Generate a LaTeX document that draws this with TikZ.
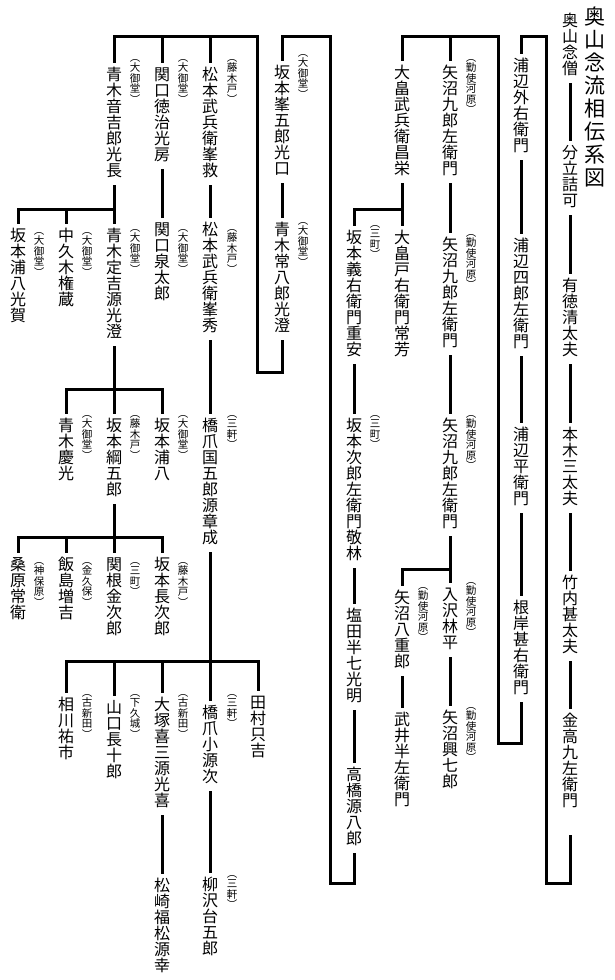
\documentclass[tikz,border=0pt]{standalone}
\usepackage{fontspec}
\setmainfont{Noto Sans CJK JP}
\newdimen\tatepitch
\def\tate#1{\vbox{\offinterlineskip\tateloop#1\relax}}
\def\tateloop#1{\ifx#1\relax\else\hbox to 1em{\hss\vrule height .84\tatepitch depth .16\tatepitch width 0pt\smash{#1}\hss}\expandafter\tateloop\fi}

\begin{document}
\begin{tikzpicture}[x=1pt,y=-1pt]
\tikzset{
  person/.style={anchor=north,inner sep=0pt,font={\fontsize{16}{16}\selectfont\tatepitch=16pt}},
  note/.style={anchor=north,inner sep=0pt,font={\fontsize{10.5}{10.5}\selectfont\tatepitch=10.5pt}},
  headline/.style={anchor=north,inner sep=0pt,font={\fontsize{21}{21}\selectfont\tatepitch=23pt}},
  kin/.style={draw=black,line width=3pt,shorten <=6pt,shorten >=4pt}
}
\useasboundingbox (0,0) rectangle (615,980);
\node[headline] (n_title) at (595,5) {\tate{奥山念流相伝系図}};
\node[person] (n_okuyama) at (570,13) {\tate{奥山念僧}};
\node[person] (n_bunryu) at (570,145) {\tate{分立詰可}};
\node[person] (n_arinori) at (570,278) {\tate{有徳清太夫}};
\node[person] (n_motoki) at (570,427) {\tate{本木三太夫}};
\node[person] (n_takeuchi) at (570,575) {\tate{竹内甚太夫}};
\node[person] (n_kanetaka) at (570,713) {\tate{金高九左衛門}};
\node[person] (n_urabe_a) at (521,58) {\tate{浦辺外右衛門}};
\node[person] (n_urabe_b) at (521,238) {\tate{浦辺四郎左衛門}};
\node[person] (n_urabe_c) at (521,427) {\tate{浦辺平衛門}};
\node[person] (n_negishi) at (521,600) {\tate{根岸甚右衛門}};
\node[person] (n_yanuma_a) at (450,65) {\tate{矢沼九郎左衛門}};
\node[person] (n_yanuma_b) at (450,237) {\tate{矢沼九郎左衛門}};
\node[person] (n_yanuma_c) at (450,418) {\tate{矢沼九郎左衛門}};
\node[person] (n_irisawa) at (450,587) {\tate{入沢林平}};
\node[person] (n_yanuma_d) at (450,710) {\tate{矢沼興七郎}};
\node[person] (n_ohata_a) at (402,65) {\tate{大畠武兵衛昌栄}};
\node[person] (n_ohata_b) at (402,230) {\tate{大畠戸右衛門常芳}};
\node[person] (n_yanuma_e) at (402,590) {\tate{矢沼八重郎}};
\node[person] (n_takei) at (402,712) {\tate{武井半左衛門}};
\node[person] (n_sakamoto_a) at (354,230) {\tate{坂本義右衛門重安}};
\node[person] (n_sakamoto_b) at (354,418) {\tate{坂本次郎左衛門敬林}};
\node[person] (n_shioda) at (354,608) {\tate{塩田半七光明}};
\node[person] (n_takahashi) at (354,767) {\tate{高橋源八郎}};
\node[person] (n_sakamoto_c) at (282,65) {\tate{坂本峯五郎光口}};
\node[person] (n_aoki_a) at (282,222) {\tate{青木常八郎光澄}};
\node[person] (n_matsumoto_a) at (210,67) {\tate{松本武兵衛峯救}};
\node[person] (n_matsumoto_b) at (210,222) {\tate{松本武兵衛峯秀}};
\node[person] (n_hashizume_a) at (210,418) {\tate{橋爪国五郎源章成}};
\node[person] (n_hashizume_b) at (210,705) {\tate{橋爪小源次}};
\node[person] (n_yanagisawa) at (210,877) {\tate{柳沢台五郎}};
\node[person] (n_sekiguchi_a) at (162,67) {\tate{関口徳治光房}};
\node[person] (n_sekiguchi_b) at (162,222) {\tate{関口泉太郎}};
\node[person] (n_sakamoto_d) at (162,418) {\tate{坂本浦八}};
\node[person] (n_sakamoto_e) at (162,557) {\tate{坂本長次郎}};
\node[person] (n_otsuka) at (162,697) {\tate{大塚喜三源光喜}};
\node[person] (n_matsuzaki) at (162,878) {\tate{松崎福松源幸}};
\node[person] (n_aoki_b) at (114,67) {\tate{青木音吉郎光長}};
\node[person] (n_aoki_c) at (114,228) {\tate{青木定吉源光澄}};
\node[person] (n_sakamoto_f) at (114,418) {\tate{坂本綱五郎}};
\node[person] (n_sekine) at (114,557) {\tate{関根金次郎}};
\node[person] (n_yamaguchi) at (114,700) {\tate{山口長十郎}};
\node[person] (n_nakakuki) at (66,228) {\tate{中久木権蔵}};
\node[person] (n_aoki_d) at (66,418) {\tate{青木慶光}};
\node[person] (n_iijima) at (66,557) {\tate{飯島増吉}};
\node[person] (n_aikawa) at (66,697) {\tate{相川祐市}};
\node[person] (n_sakamoto_g) at (18,228) {\tate{坂本浦八光賀}};
\node[person] (n_kuwabara) at (18,557) {\tate{桑原常衛}};
\node[person] (n_tamura) at (258,695) {\tate{田村只吉}};
% village notes
\node[note] (a_yanuma_a) at (471,52) {\tate{︵勤使河原︶}};
\node[note] (a_yanuma_b) at (471,227) {\tate{︵勤使河原︶}};
\node[note] (a_yanuma_c) at (471,408) {\tate{︵勤使河原︶}};
\node[note] (a_irisawa) at (471,575) {\tate{︵勤使河原︶}};
\node[note] (a_yanuma_d) at (471,700) {\tate{︵勤使河原︶}};
\node[note] (a_yanuma_e) at (423,580) {\tate{︵勤使河原︶}};
\node[note] (a_sakamoto_a) at (375,218) {\tate{︵三町︶}};
\node[note] (a_sakamoto_b) at (375,408) {\tate{︵三町︶}};
\node[note] (a_sakamoto_c) at (303,47) {\tate{︵大御堂︶}};
\node[note] (a_aoki_a) at (303,215) {\tate{︵大御堂︶}};
\node[note] (a_matsumoto_a) at (232,52) {\tate{︵藤木戸︶}};
\node[note] (a_matsumoto_b) at (232,222) {\tate{︵藤木戸︶}};
\node[note] (a_hashizume_a) at (232,408) {\tate{︵三軒︶}};
\node[note] (a_hashizume_b) at (232,687) {\tate{︵三軒︶}};
\node[note] (a_yanagisawa) at (232,868) {\tate{︵三軒︶}};
\node[note] (a_sekiguchi_a) at (183,52) {\tate{︵大御堂︶}};
\node[note] (a_sekiguchi_b) at (183,222) {\tate{︵大御堂︶}};
\node[note] (a_sakamoto_d) at (183,408) {\tate{︵大御堂︶}};
\node[note] (a_sakamoto_e) at (183,555) {\tate{︵藤木戸︶}};
\node[note] (a_otsuka) at (183,687) {\tate{︵古新田︶}};
\node[note] (a_aoki_b) at (135,52) {\tate{︵大御堂︶}};
\node[note] (a_aoki_c) at (135,222) {\tate{︵大御堂︶}};
\node[note] (a_sakamoto_f) at (135,408) {\tate{︵藤木戸︶}};
\node[note] (a_sekine) at (135,555) {\tate{︵三町︶}};
\node[note] (a_yamaguchi) at (135,687) {\tate{︵下久城︶}};
\node[note] (a_nakakuki) at (87,225) {\tate{︵大御堂︶}};
\node[note] (a_aoki_d) at (87,408) {\tate{︵大御堂︶}};
\node[note] (a_iijima) at (87,555) {\tate{︵金久保︶}};
\node[note] (a_aikawa) at (87,687) {\tate{︵古新田︶}};
\node[note] (a_sakamoto_g) at (39,225) {\tate{︵大御堂︶}};
\node[note] (a_kuwabara) at (39,555) {\tate{︵神保原︶}};
% main line
\draw[kin] (n_okuyama) -- (n_bunryu);
\draw[kin] (n_bunryu) -- (n_arinori);
\draw[kin] (n_arinori) -- (n_motoki);
\draw[kin] (n_motoki) -- (n_takeuchi);
\draw[kin] (n_takeuchi) -- (n_kanetaka);
\draw[kin,shorten <=26pt] (n_kanetaka) |- (546,883) |- (521,36) -- (n_urabe_a);
\draw[kin] (n_urabe_a) -- (n_urabe_b);
\draw[kin] (n_urabe_b) -- (n_urabe_c);
\draw[kin] (n_urabe_c) -- (n_negishi);
\draw[kin] (n_negishi) |- (498,743) |- (450,36) -- (n_yanuma_a);
\draw[kin] (n_negishi) |- (498,743) |- (402,36) -- (n_ohata_a);
\draw[kin] (n_yanuma_a) -- (n_yanuma_b);
\draw[kin] (n_yanuma_b) -- (n_yanuma_c);
\draw[kin] (n_yanuma_c) -- (n_irisawa);
\draw[kin] (n_yanuma_c) |- (402,569) -- (n_yanuma_e);
\draw[kin] (n_irisawa) -- (n_yanuma_d);
\draw[kin] (n_yanuma_e) -- (n_takei);
\draw[kin] (n_ohata_a) -- (n_ohata_b);
\draw[kin] (n_ohata_a) |- (354,209) -- (n_sakamoto_a);
\draw[kin] (n_sakamoto_a) -- (n_sakamoto_b);
\draw[kin] (n_sakamoto_b) -- (n_shioda);
\draw[kin] (n_shioda) -- (n_takahashi);
\draw[kin] (n_takahashi) |- (330,883) |- (282,36) -- (n_sakamoto_c);
\draw[kin] (n_sakamoto_c) -- (n_aoki_a);
\draw[kin] (n_aoki_a) |- (257,372) |- (210,36) -- (n_matsumoto_a);
\draw[kin] (n_aoki_a) |- (257,372) |- (162,36) -- (n_sekiguchi_a);
\draw[kin] (n_aoki_a) |- (257,372) |- (114,36) -- (n_aoki_b);
% branches
\draw[kin] (n_matsumoto_a) -- (n_matsumoto_b);
\draw[kin] (n_matsumoto_b) -- (n_hashizume_a);
\draw[kin] (n_sekiguchi_a) -- (n_sekiguchi_b);
\draw[kin] (n_aoki_b) -- (n_aoki_c);
\draw[kin] (n_aoki_b) |- (66,209) -- (n_nakakuki);
\draw[kin] (n_aoki_b) |- (18,209) -- (n_sakamoto_g);
\draw[kin] (n_aoki_c) -- (n_sakamoto_f);
\draw[kin] (n_aoki_c) |- (66,389) -- (n_aoki_d);
\draw[kin] (n_aoki_c) |- (162,389) -- (n_sakamoto_d);
\draw[kin] (n_sakamoto_f) -- (n_sekine);
\draw[kin] (n_sakamoto_f) |- (18,537) -- (n_kuwabara);
\draw[kin] (n_sakamoto_f) |- (66,537) -- (n_iijima);
\draw[kin] (n_sakamoto_f) |- (162,537) -- (n_sakamoto_e);
\draw[kin] (n_hashizume_a) -- (n_hashizume_b);
\draw[kin] (n_hashizume_a) |- (66,661) -- (n_aikawa);
\draw[kin] (n_hashizume_a) |- (114,661) -- (n_yamaguchi);
\draw[kin] (n_hashizume_a) |- (162,661) -- (n_otsuka);
\draw[kin] (n_hashizume_a) |- (258,661) -- (n_tamura);
\draw[kin] (n_otsuka) -- (n_matsuzaki);
\draw[kin] (n_hashizume_b) -- (n_yanagisawa);
\end{tikzpicture}
\end{document}
